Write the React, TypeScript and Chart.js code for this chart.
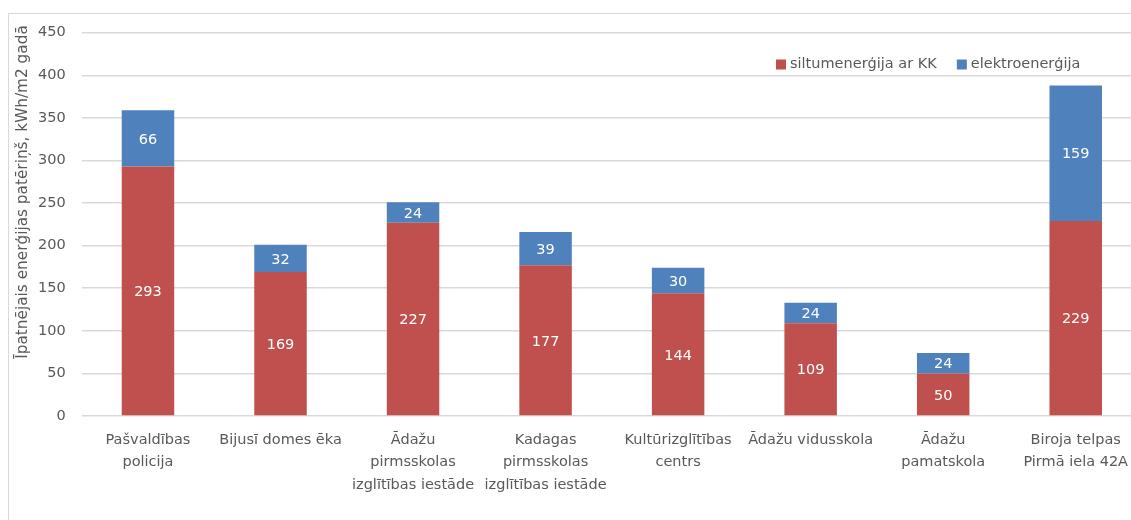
import React, { useEffect, useRef } from "react";
import { Chart, registerables } from "chart.js";

Chart.register(...registerables);

const categories: string[][] = [
  ["Pašvaldības", "policija"],
  ["Bijusī domes ēka"],
  ["Ādažu", "pirmsskolas", "izglītības iestāde"],
  ["Kadagas", "pirmsskolas", "izglītības iestāde"],
  ["Kultūrizglītības", "centrs"],
  ["Ādažu vidusskola"],
  ["Ādažu", "pamatskola"],
  ["Biroja telpas", "Pirmā iela 42A"],
];
const heatValues = [293, 169, 227, 177, 144, 109, 50, 229];
const elecValues = [66, 32, 24, 39, 30, 24, 24, 159];
const seriesNames = ["siltumenerģija ar KK", "elektroenerģija"];
const seriesColors = ["#C0504D", "#4F81BD"];
const yAxisTitle = "Īpatnējais enerģijas patēriņš, kWh/m2 gadā";
const yMin = 0;
const yMax = 450;
const yStep = 50;

const FONT = "DejaVu Sans";
const FS = 14.5;
const TEXT = "#595959";

const dataLabelPlugin = {
  id: "dataLabels",
  afterDatasetsDraw(chart: any) {
    const ctx = chart.ctx;
    ctx.save();
    ctx.font = `${FS}px "${FONT}"`;
    ctx.fillStyle = "#ffffff";
    ctx.textAlign = "center";
    ctx.textBaseline = "middle";
    chart.data.datasets.forEach((ds: any, i: number) => {
      const meta = chart.getDatasetMeta(i);
      meta.data.forEach((bar: any, j: number) => {
        const y = (bar.y + bar.base) / 2 + 1.5;
        ctx.fillText(String(ds.data[j]), bar.x, y);
      });
    });
    ctx.restore();
  },
};

const legendPlugin = {
  id: "customLegend",
  afterDraw(chart: any) {
    const ctx = chart.ctx;
    ctx.save();
    ctx.font = `${FS}px "${FONT}"`;
    ctx.textBaseline = "middle";
    ctx.textAlign = "left";
    let x = 768;
    const cy = 56.5;
    chart.data.datasets.forEach((ds: any) => {
      ctx.fillStyle = ds.backgroundColor;
      ctx.fillRect(x, cy - 5, 10, 10);
      ctx.fillStyle = TEXT;
      ctx.fillText(ds.label, x + 14, cy);
      x += 14 + ctx.measureText(ds.label).width + 20;
    });
    ctx.restore();
  },
};

const yTitlePlugin = {
  id: "yTitle",
  afterDraw(chart: any) {
    const ctx = chart.ctx;
    ctx.save();
    ctx.font = `15.3px "${FONT}"`;
    ctx.fillStyle = TEXT;
    ctx.textAlign = "center";
    ctx.textBaseline = "middle";
    ctx.translate(15, 184);
    ctx.rotate(-Math.PI / 2);
    ctx.fillText(yAxisTitle, 0, 0);
    ctx.restore();
  },
};

export default function App() {
  const ref = useRef<HTMLCanvasElement | null>(null);

  useEffect(() => {
    document.documentElement.style.overflow = "hidden";
    document.body.style.overflow = "hidden";
    const canvas = ref.current;
    if (!canvas) return;
    const chart = new Chart(canvas, {
      type: "bar",
      data: {
        labels: categories as any,
        datasets: [
          {
            label: seriesNames[0],
            data: heatValues,
            backgroundColor: seriesColors[0],
            borderWidth: 0,
          },
          {
            label: seriesNames[1],
            data: elecValues,
            backgroundColor: seriesColors[1],
            borderWidth: 0,
          },
        ],
      },
      options: {
        responsive: false,
        animation: false,
        devicePixelRatio: 1,
        layout: { padding: { top: 23, right: 16, bottom: 0, left: 0 } },
        datasets: {
          bar: { barPercentage: 0.396, categoryPercentage: 1 },
        },
        plugins: {
          legend: { display: false },
          tooltip: { enabled: false },
          title: { display: false },
        },
        scales: {
          x: {
            stacked: true,
            grid: { display: false, drawTicks: false },
            border: { display: false },
            ticks: {
              color: TEXT,
              font: { family: FONT, size: FS, lineHeight: 1.55 },
              padding: 13,
              maxRotation: 0,
              minRotation: 0,
              autoSkip: false,
            },
            afterFit: (s: any) => {
              s.height = 97;
            },
          },
          y: {
            stacked: true,
            min: yMin,
            max: yMax,
            grid: { color: "#d9d9d9", lineWidth: 1.5, drawTicks: false },
            border: { display: false },
            ticks: {
              stepSize: yStep,
              color: TEXT,
              font: { family: FONT, size: FS },
              padding: 16,
            },
            afterFit: (s: any) => {
              s.width = 73.7;
            },
          },
        },
      },
      plugins: [dataLabelPlugin, legendPlugin, yTitlePlugin],
    });
    return () => chart.destroy();
  }, []);

  return (
    <div
      style={{
        position: "fixed",
        left: 8,
        top: 8,
        width: 1123,
        height: 512,
        overflow: "hidden",
        background: "#ffffff",
      }}
    >
      <div
        style={{
          position: "absolute",
          left: 0,
          top: 5,
          width: 1200,
          height: 600,
          border: "1px solid #d9d9d9",
          boxSizing: "border-box",
        }}
      />
      <canvas
        ref={ref}
        width={1150}
        height={505}
        style={{ position: "absolute", left: 0, top: 0, display: "block" }}
      />
    </div>
  );
}
